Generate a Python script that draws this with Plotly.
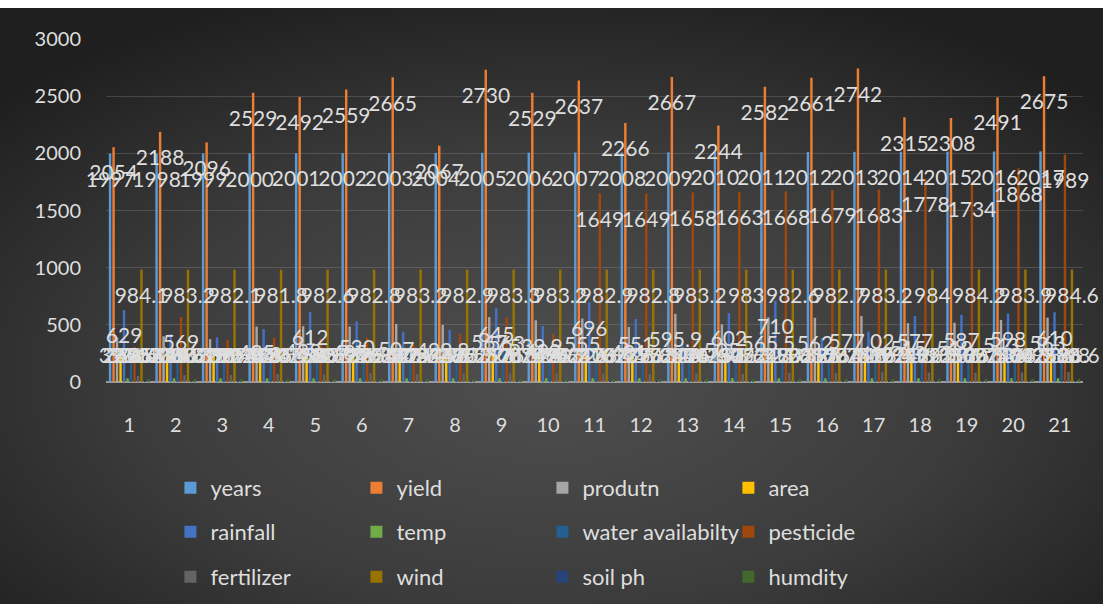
import base64
import plotly.graph_objects as go

# ---- data -----------------------------------------------------------------
categories = ["1", "2", "3", "4", "5", "6", "7", "8", "9", "10", "11",
              "12", "13", "14", "15", "16", "17", "18", "19", "20", "21"]

years = [1997, 1998, 1999, 2000, 2001, 2002, 2003, 2004, 2005, 2006, 2007,
         2008, 2009, 2010, 2011, 2012, 2013, 2014, 2015, 2016, 2017]
yield_ = [2054, 2188, 2096, 2529, 2492, 2559, 2665, 2067, 2730, 2529, 2637,
          2266, 2667, 2244, 2582, 2661, 2742, 2315, 2308, 2491, 2675]
produtn = [390, 400, 375, 485, 488, 485, 507, 499.8, 567, 539.9, 555,
           481, 595.9, 505, 565.5, 562, 577.02, 515, 519, 543, 563]
area = [240, 236, 232, 245, 250, 238, 242, 248, 252, 246, 240,
        235, 244, 250, 247, 255, 251, 249, 253, 246, 258]
rainfall = [629, 420, 390, 463, 612, 530, 440, 455, 645, 490, 696,
            551, 340, 602, 710, 385, 440, 577, 587, 598, 610]
temp = [32.1, 31.8, 31.9, 32.4, 32.2, 32.6, 32.3, 32.0, 32.8, 32.5, 32.6,
        32.7, 32.4, 33.0, 32.8, 32.7, 32.9, 33.1, 33.2, 33.4, 33.1]
water = [270, 300, 290, 310, 280, 295, 305, 285, 300, 290, 310,
         295, 300, 305, 290, 300, 310, 295, 305, 300, 310]
pesticide = [306, 569, 367, 385, 380, 385, 324, 420, 563, 420, 1649,
             1649, 1658, 1663, 1668, 1679, 1683, 1778, 1734, 1868, 1989]
fertilizer = [55, 60, 61, 70, 65, 79, 70, 72, 75, 74, 73,
              70, 76, 72, 80, 78, 85, 82, 80, 84, 88]
wind = [984.1, 983.2, 982.1, 981.8, 982.6, 982.8, 983.2, 982.9, 983.3, 983.2, 982.9,
        982.8, 983.2, 983, 982.6, 982.7, 983.2, 984, 984.2, 983.9, 984.6]
soil_ph = [6.5, 6.6, 6.4, 6.7, 6.5, 6.8, 6.6, 6.5, 6.7, 6.6, 6.9,
           6.8, 6.7, 6.6, 6.8, 6.7, 6.9, 6.8, 6.7, 6.9, 6.8]
humdity = [25.2, 26.1, 25.8, 26.4, 25.9, 26.3, 26.0, 25.7, 26.5, 26.2, 26.4,
           26.1, 26.6, 26.3, 26.0, 26.7, 26.4, 26.8, 26.5, 26.9, 26.6]

series = [
    ("years", years, "#5B9BD5", "legend"),
    ("yield", yield_, "#ED7D31", "legend"),
    ("produtn", produtn, "#A5A5A5", "legend"),
    ("area", area, "#FFC000", "legend"),
    ("rainfall", rainfall, "#4472C4", "legend2"),
    ("temp", temp, "#70AD47", "legend2"),
    ("water availabilty", water, "#255E91", "legend2"),
    ("pesticide", pesticide, "#9E480E", "legend2"),
    ("fertilizer", fertilizer, "#636363", "legend3"),
    ("wind", wind, "#997300", "legend3"),
    ("soil ph", soil_ph, "#264478", "legend3"),
    ("humdity", humdity, "#43682B", "legend3"),
]

FONT = "Lato"
TEXT_COLOR = "#dedede"
LABEL_DROP = 245     # labels sit just inside the top of each column
LABEL_FLOOR = 210    # short columns keep their label above the axis

fig = go.Figure()

for name, vals, color, leg in series:
    fig.add_trace(go.Bar(
        x=categories, y=vals, name=name, offsetgroup=name, legend=leg,
        marker=dict(color=color, line=dict(width=0)),
    ))

for name, vals, color, leg in series:
    fig.add_trace(go.Scatter(
        x=categories,
        y=[max(v - LABEL_DROP, LABEL_FLOOR) for v in vals],
        text=[f"{v:g}" for v in vals],
        mode="text", textposition="middle center",
        textfont=dict(family=FONT, size=21, color=TEXT_COLOR),
        offsetgroup=name, orientation="v",
        showlegend=False, hoverinfo="skip", cliponaxis=False,
    ))

# dark radial backdrop
W, H, TOP = 1103, 604, 8
svg = (
    f'<svg xmlns="http://www.w3.org/2000/svg" width="{W}" height="{H - TOP}" '
    f'viewBox="0 0 {W} {H - TOP}" preserveAspectRatio="none">'
    '<defs><radialGradient id="g" cx="50%" cy="62%" r="68%">'
    '<stop offset="0" stop-color="#4f4f4f"/>'
    '<stop offset="0.55" stop-color="#3c3c3c"/>'
    '<stop offset="1" stop-color="#1f1f1f"/>'
    '</radialGradient></defs>'
    f'<rect width="{W}" height="{H - TOP}" fill="url(#g)"/></svg>'
)
bg_src = "data:image/svg+xml;base64," + base64.b64encode(svg.encode()).decode()

ML, MR, MT, MB = 106, 20, 39, 222
PW, PH = W - ML - MR, H - MT - MB

legend_common = dict(
    orientation="h", xref="container", yref="container",
    xanchor="left", yanchor="middle", x=0.1545,
    entrywidth=141, entrywidthmode="pixels",
    font=dict(family=FONT, size=22, color=TEXT_COLOR),
    bgcolor="rgba(0,0,0,0)", itemclick=False, itemdoubleclick=False,
)

fig.update_layout(
    width=W, height=H,
    margin=dict(l=ML, r=MR, t=MT, b=MB),
    paper_bgcolor="white",
    plot_bgcolor="rgba(0,0,0,0)",
    barmode="group", bargap=0.1, bargroupgap=0.3,
    scattermode="group", scattergap=0.1,
    font=dict(family=FONT, size=20, color=TEXT_COLOR),
    legend=dict(legend_common, y=1 - 488 / H),
    legend2=dict(legend_common, y=1 - 532 / H),
    legend3=dict(legend_common, y=1 - 577 / H),
    images=[dict(
        source=bg_src, xref="paper", yref="paper",
        x=-ML / PW, y=1 + (MT - TOP) / PH,
        sizex=W / PW, sizey=(H - TOP) / PH,
        xanchor="left", yanchor="top", sizing="stretch", layer="below",
    )],
    xaxis=dict(
        type="category", showgrid=False, zeroline=False, showline=False,
        ticks="outside", ticklen=25, tickcolor="rgba(0,0,0,0)",
        tickfont=dict(family=FONT, size=20, color=TEXT_COLOR),
    ),
    yaxis=dict(
        range=[0, 3000], dtick=500, tick0=0,
        showgrid=True, gridcolor="rgba(217,217,217,0.18)", gridwidth=1,
        zeroline=True, zerolinecolor="#9a9a9a", zerolinewidth=2,
        ticks="outside", ticklen=20, tickcolor="rgba(0,0,0,0)",
        tickfont=dict(family=FONT, size=20, color=TEXT_COLOR),
    ),
)

fig.write_html("out.html")
